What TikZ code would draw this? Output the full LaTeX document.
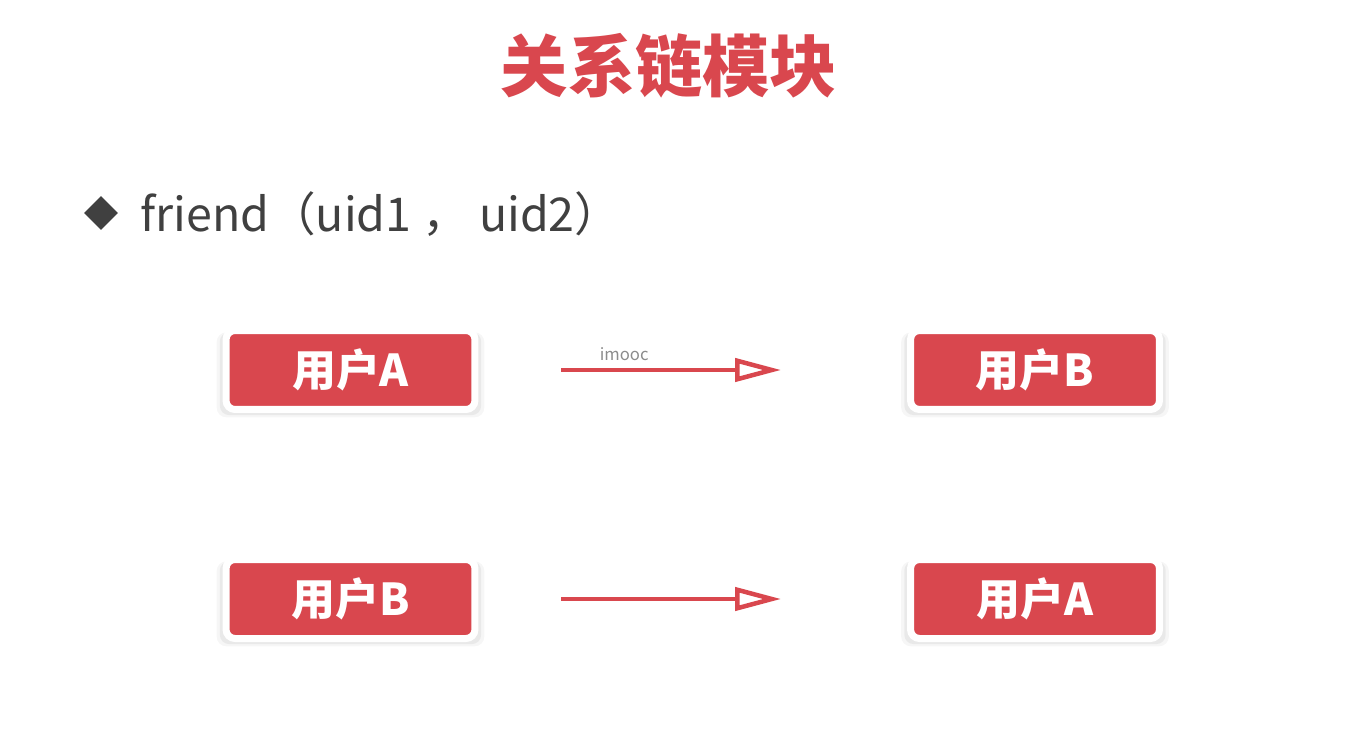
\documentclass[tikz,border=0pt]{standalone}
\usepackage{fontspec}
\newfontfamily\cjk{Noto Sans CJK SC}
\usetikzlibrary{arrows.meta,shapes.geometric,shadows}

\definecolor{mkred}{RGB}{217,71,78}
\definecolor{mkgray}{RGB}{64,64,64}
\definecolor{mklabel}{RGB}{140,140,140}

\begin{document}
\begin{tikzpicture}[
    x=0.02cm, y=-0.02cm,
    every node/.style={font=\cjk},
    userbox/.style={draw=white, fill=mkred, line width=0.14cm,
        rounded corners=0.18cm, minimum width=4.98cm, minimum height=1.58cm,
        inner sep=0pt, text=white, font=\cjk\bfseries\fontsize{25}{28}\selectfont,
        drop shadow={opacity=0.07, shadow scale=1.075, shadow xshift=0cm, shadow yshift=-0.09cm},
        drop shadow={opacity=0.10, shadow scale=1.05, shadow xshift=0cm, shadow yshift=-0.07cm}},
    relarrow/.style={draw=mkred, line width=0.09cm,
        -{Triangle[open, length=0.92cm, width=0.46cm]},
        shorten <=1.66cm, shorten >=2.52cm}
]

% --- Rahmen (Pixelkoordinaten, y nach unten) ---
\useasboundingbox[fill=white] (0,0) rectangle (1349,734);

% --- Titel ---
\node[text=mkred, font=\cjk\bfseries\fontsize{38.3}{42}\selectfont] (title) at (669,66) {关系链模块};

% --- Aufzaehlungspunkt ---
\node[diamond, fill=mkgray, minimum width=0.68cm, minimum height=0.68cm, inner sep=0pt] (bullet) at (101,213) {};
\node[anchor=west, text=mkgray, font=\cjk\fontsize{26.5}{29}\selectfont] (formel) at (134,214) {friend（uid1 ， uid2）};

% --- Zeile 1: A -> B ---
\node[userbox] (ua1) at (350.5,370) {用户A};
\node[userbox] (ub1) at (1035,370) {用户B};
\draw[relarrow] (ua1) -- node[pos=0.34, above=0.02cm, text=mklabel, font=\cjk\fontsize{9.5}{11}\selectfont] (lbl) {imooc} (ub1);

% --- Zeile 2: B -> A ---
\node[userbox] (ub2) at (350.5,599) {用户B};
\node[userbox] (ua2) at (1035,599) {用户A};
\draw[relarrow] (ub2) -- (ua2);

\end{tikzpicture}
\end{document}
